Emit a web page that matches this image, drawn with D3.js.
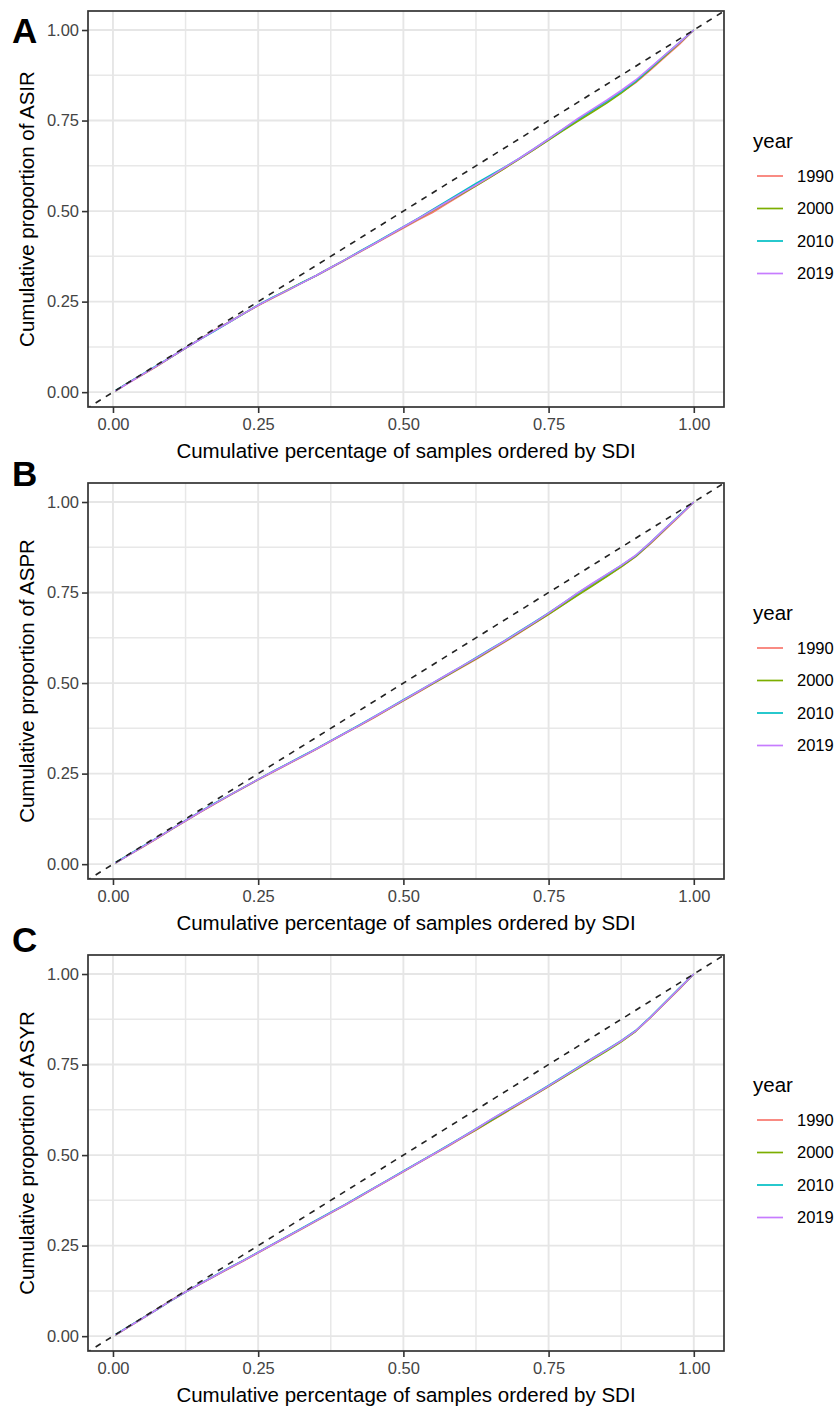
<!DOCTYPE html>
<html>
<head>
<meta charset="utf-8">
<script src="https://cdn.jsdelivr.net/npm/d3@7"></script>
<style>
  html, body { margin: 0; padding: 0; background: #fff; }
  svg { display: block; font-family: "Liberation Sans", Arial, sans-serif; }
</style>
</head>
<body>
<svg id="chart" width="837" height="1406"></svg>
<script>
// ---------- DATA ----------
const xGrid = [0.004, 0.025, 0.05, 0.075, 0.1, 0.125, 0.15, 0.175, 0.2, 0.225, 0.25, 0.275, 0.3, 0.325, 0.35, 0.375, 0.4, 0.425, 0.45, 0.475, 0.5, 0.525, 0.55, 0.575, 0.6, 0.625, 0.65, 0.675, 0.7, 0.725, 0.75, 0.775, 0.8, 0.825, 0.85, 0.875, 0.9, 0.925, 0.95, 0.975, 1.0];

const years = ["1990", "2000", "2010", "2019"];
const panelLetters = ["A", "B", "C"];
const yTitles = ["Cumulative proportion of ASIR", "Cumulative proportion of ASPR", "Cumulative proportion of ASYR"];
const xTitle = "Cumulative percentage of samples ordered by SDI";
const tickValues = [0, 0.25, 0.5, 0.75, 1];
const legendTitle = "year";

// Panel A (ASIR)
const A_1990 = [0.003, 0.024, 0.047, 0.071, 0.096, 0.121, 0.146, 0.171, 0.194, 0.217, 0.239, 0.260, 0.280, 0.301, 0.321, 0.343, 0.365, 0.387, 0.409, 0.431, 0.453, 0.475, 0.496, 0.521, 0.545, 0.570, 0.594, 0.619, 0.644, 0.670, 0.697, 0.724, 0.751, 0.776, 0.801, 0.827, 0.855, 0.889, 0.925, 0.960, 1.000];
const A_2000 = [0.003, 0.025, 0.048, 0.072, 0.097, 0.122, 0.147, 0.170, 0.193, 0.216, 0.240, 0.261, 0.282, 0.302, 0.322, 0.344, 0.366, 0.388, 0.410, 0.433, 0.455, 0.478, 0.501, 0.524, 0.547, 0.570, 0.594, 0.619, 0.644, 0.670, 0.696, 0.722, 0.748, 0.773, 0.798, 0.826, 0.857, 0.892, 0.928, 0.964, 1.000];
const A_2010 = [0.004, 0.025, 0.049, 0.073, 0.097, 0.122, 0.146, 0.169, 0.193, 0.217, 0.241, 0.262, 0.281, 0.302, 0.322, 0.344, 0.366, 0.389, 0.411, 0.434, 0.457, 0.480, 0.504, 0.528, 0.552, 0.576, 0.599, 0.622, 0.646, 0.672, 0.699, 0.726, 0.753, 0.778, 0.803, 0.830, 0.859, 0.894, 0.930, 0.965, 1.000];
const A_2019 = [0.003, 0.024, 0.048, 0.072, 0.097, 0.122, 0.146, 0.170, 0.193, 0.217, 0.240, 0.261, 0.281, 0.301, 0.322, 0.344, 0.366, 0.388, 0.410, 0.433, 0.456, 0.479, 0.502, 0.525, 0.549, 0.572, 0.596, 0.621, 0.646, 0.672, 0.699, 0.727, 0.755, 0.781, 0.806, 0.833, 0.862, 0.896, 0.931, 0.965, 1.000];

// Panel B (ASPR)
const B_1990 = [0.003, 0.023, 0.046, 0.070, 0.095, 0.119, 0.143, 0.166, 0.189, 0.211, 0.233, 0.254, 0.275, 0.296, 0.317, 0.339, 0.361, 0.383, 0.405, 0.428, 0.451, 0.474, 0.497, 0.520, 0.543, 0.566, 0.590, 0.614, 0.639, 0.664, 0.690, 0.717, 0.744, 0.770, 0.795, 0.821, 0.849, 0.884, 0.922, 0.960, 1.000];
const B_2000 = [0.003, 0.024, 0.047, 0.071, 0.096, 0.120, 0.144, 0.167, 0.190, 0.212, 0.234, 0.255, 0.276, 0.297, 0.318, 0.340, 0.362, 0.384, 0.406, 0.429, 0.452, 0.475, 0.498, 0.521, 0.544, 0.567, 0.591, 0.615, 0.640, 0.665, 0.690, 0.716, 0.742, 0.768, 0.794, 0.821, 0.850, 0.886, 0.924, 0.962, 1.000];
const B_2010 = [0.004, 0.024, 0.048, 0.072, 0.096, 0.121, 0.145, 0.168, 0.190, 0.212, 0.234, 0.256, 0.277, 0.298, 0.319, 0.341, 0.363, 0.385, 0.408, 0.431, 0.454, 0.477, 0.500, 0.523, 0.546, 0.570, 0.594, 0.618, 0.643, 0.668, 0.694, 0.721, 0.748, 0.774, 0.799, 0.825, 0.852, 0.888, 0.926, 0.963, 1.000];
const B_2019 = [0.003, 0.023, 0.047, 0.071, 0.096, 0.120, 0.144, 0.167, 0.190, 0.212, 0.234, 0.255, 0.276, 0.297, 0.318, 0.340, 0.362, 0.384, 0.407, 0.430, 0.453, 0.476, 0.500, 0.523, 0.546, 0.569, 0.593, 0.617, 0.642, 0.667, 0.693, 0.721, 0.749, 0.775, 0.800, 0.825, 0.853, 0.888, 0.926, 0.962, 1.000];

// Panel C (ASYR)
const C_1990 = [0.003, 0.024, 0.049, 0.074, 0.099, 0.123, 0.144, 0.165, 0.187, 0.208, 0.230, 0.252, 0.274, 0.296, 0.318, 0.340, 0.362, 0.385, 0.408, 0.431, 0.454, 0.477, 0.500, 0.522, 0.546, 0.569, 0.593, 0.617, 0.641, 0.665, 0.689, 0.714, 0.740, 0.765, 0.789, 0.814, 0.842, 0.879, 0.919, 0.958, 1.000];
const C_2000 = [0.003, 0.024, 0.048, 0.073, 0.098, 0.122, 0.144, 0.166, 0.188, 0.209, 0.231, 0.253, 0.275, 0.297, 0.319, 0.341, 0.363, 0.386, 0.409, 0.432, 0.455, 0.478, 0.501, 0.524, 0.547, 0.570, 0.594, 0.618, 0.642, 0.666, 0.690, 0.714, 0.738, 0.763, 0.787, 0.813, 0.842, 0.880, 0.920, 0.960, 1.000];
const C_2010 = [0.004, 0.025, 0.049, 0.073, 0.098, 0.122, 0.145, 0.167, 0.189, 0.210, 0.232, 0.254, 0.276, 0.298, 0.320, 0.342, 0.364, 0.387, 0.410, 0.433, 0.456, 0.479, 0.502, 0.525, 0.549, 0.573, 0.597, 0.621, 0.645, 0.668, 0.692, 0.717, 0.742, 0.767, 0.791, 0.816, 0.844, 0.881, 0.921, 0.961, 1.000];
const C_2019 = [0.003, 0.024, 0.048, 0.073, 0.098, 0.122, 0.144, 0.166, 0.188, 0.209, 0.231, 0.253, 0.275, 0.297, 0.319, 0.341, 0.363, 0.386, 0.409, 0.432, 0.455, 0.478, 0.501, 0.524, 0.548, 0.572, 0.598, 0.621, 0.644, 0.667, 0.691, 0.716, 0.741, 0.766, 0.790, 0.815, 0.843, 0.880, 0.920, 0.960, 1.000];

const panelSeries = [
  [A_1990, A_2000, A_2010, A_2019],
  [B_1990, B_2000, B_2010, B_2019],
  [C_1990, C_2000, C_2010, C_2019]
];

// ---------- LAYOUT / STYLE ----------
const colors = ["#F8766D", "#7CAE00", "#00BFC4", "#C77CFF"];
const plotLeft = 88, plotRight = 724, plotH = 396;
const panelTops = [11, 483, 955];
const letterBaselines = [43, 486, 952];
const legendOffset = 472;

const svg = d3.select("#chart");
const color = d3.scaleOrdinal().domain(years).range(colors);

const x = d3.scaleLinear().domain([-0.043, 1.052]).range([plotLeft, plotRight]);

panelLetters.forEach((letter, pi) => {
  const top = panelTops[pi];
  const bottom = top + plotH;
  const y = d3.scaleLinear().domain([-0.041, 1.0525]).range([bottom, top]);
  const g = svg.append("g");

  const clipId = "clip" + pi;
  svg.append("defs").append("clipPath").attr("id", clipId)
    .append("rect").attr("x", plotLeft).attr("y", top)
    .attr("width", plotRight - plotLeft).attr("height", plotH);

  g.append("rect").attr("x", plotLeft).attr("y", top)
    .attr("width", plotRight - plotLeft).attr("height", plotH).attr("fill", "#fff");

  // minor grid
  const minor = [0.125, 0.375, 0.625, 0.875];
  g.selectAll(".vminor").data(minor).enter().append("line")
    .attr("x1", d => x(d)).attr("x2", d => x(d)).attr("y1", top).attr("y2", bottom)
    .attr("stroke", "#E8E8E8").attr("stroke-width", 1.5);
  g.selectAll(".hminor").data(minor).enter().append("line")
    .attr("y1", d => y(d)).attr("y2", d => y(d)).attr("x1", plotLeft).attr("x2", plotRight)
    .attr("stroke", "#E8E8E8").attr("stroke-width", 1.5);
  // major grid
  g.selectAll(".vmajor").data(tickValues).enter().append("line")
    .attr("x1", d => x(d)).attr("x2", d => x(d)).attr("y1", top).attr("y2", bottom)
    .attr("stroke", "#E6E6E6").attr("stroke-width", 1.9);
  g.selectAll(".hmajor").data(tickValues).enter().append("line")
    .attr("y1", d => y(d)).attr("y2", d => y(d)).attr("x1", plotLeft).attr("x2", plotRight)
    .attr("stroke", "#E6E6E6").attr("stroke-width", 1.9);

  const plotG = g.append("g").attr("clip-path", `url(#${clipId})`);

  const line = d3.line().x((d, i) => x(xGrid[i])).y(d => y(d));
  panelSeries[pi].forEach((vals, si) => {
    plotG.append("path").datum(vals)
      .attr("d", line)
      .attr("fill", "none")
      .attr("stroke", color(years[si]))
      .attr("stroke-width", 1.6)
      .attr("stroke-linejoin", "round");
  });

  // equality line (abline)
  plotG.append("line")
    .attr("x1", x(-0.1)).attr("y1", y(-0.1))
    .attr("x2", x(1.2)).attr("y2", y(1.2))
    .attr("stroke", "#222").attr("stroke-width", 1.6)
    .attr("stroke-dasharray", "6,6");

  g.append("rect").attr("x", plotLeft).attr("y", top)
    .attr("width", plotRight - plotLeft).attr("height", plotH)
    .attr("fill", "none").attr("stroke", "#333333").attr("stroke-width", 1.7);

  const fmt = d3.format(".2f");
  const yAxis = g.append("g").attr("transform", `translate(${plotLeft},0)`)
    .call(d3.axisLeft(y).tickValues(tickValues).tickFormat(fmt).tickSize(6).tickPadding(3));
  const xAxis = g.append("g").attr("transform", `translate(0,${bottom})`)
    .call(d3.axisBottom(x).tickValues(tickValues).tickFormat(fmt).tickSize(6).tickPadding(5));
  [yAxis, xAxis].forEach(ax => {
    ax.select(".domain").remove();
    ax.selectAll(".tick line").attr("stroke", "#333333").attr("stroke-width", 1.6);
    ax.selectAll(".tick text").attr("fill", "#444").style("font-size", "16.5px")
      .style("font-family", '"Liberation Sans", Arial, sans-serif');
  });

  svg.append("text").attr("x", (plotLeft + plotRight) / 2).attr("y", bottom + 51)
    .attr("text-anchor", "middle").style("font-size", "20.5px").attr("fill", "#000")
    .text(xTitle);
  svg.append("text")
    .attr("transform", `translate(34,${(top + bottom) / 2}) rotate(-90)`)
    .attr("text-anchor", "middle").style("font-size", "20.5px").attr("fill", "#000")
    .text(yTitles[pi]);

  svg.append("text").attr("x", 12).attr("y", letterBaselines[pi])
    .style("font-size", "35px").style("font-weight", "bold").attr("fill", "#000")
    .text(letter);

  const lg = svg.append("g").attr("transform", `translate(0,${pi * legendOffset})`);
  lg.append("text").attr("x", 753).attr("y", 148)
    .style("font-size", "20.5px").attr("fill", "#000").text(legendTitle);
  years.forEach((yr, i) => {
    const ly = 176 + i * 32.5;
    lg.append("line").attr("x1", 757).attr("x2", 783).attr("y1", ly).attr("y2", ly)
      .attr("stroke", color(yr)).attr("stroke-width", 1.7);
    lg.append("text").attr("x", 797).attr("y", ly).attr("dy", "0.35em")
      .style("font-size", "16.5px").attr("fill", "#000").text(yr);
  });
});
</script>
</body>
</html>
